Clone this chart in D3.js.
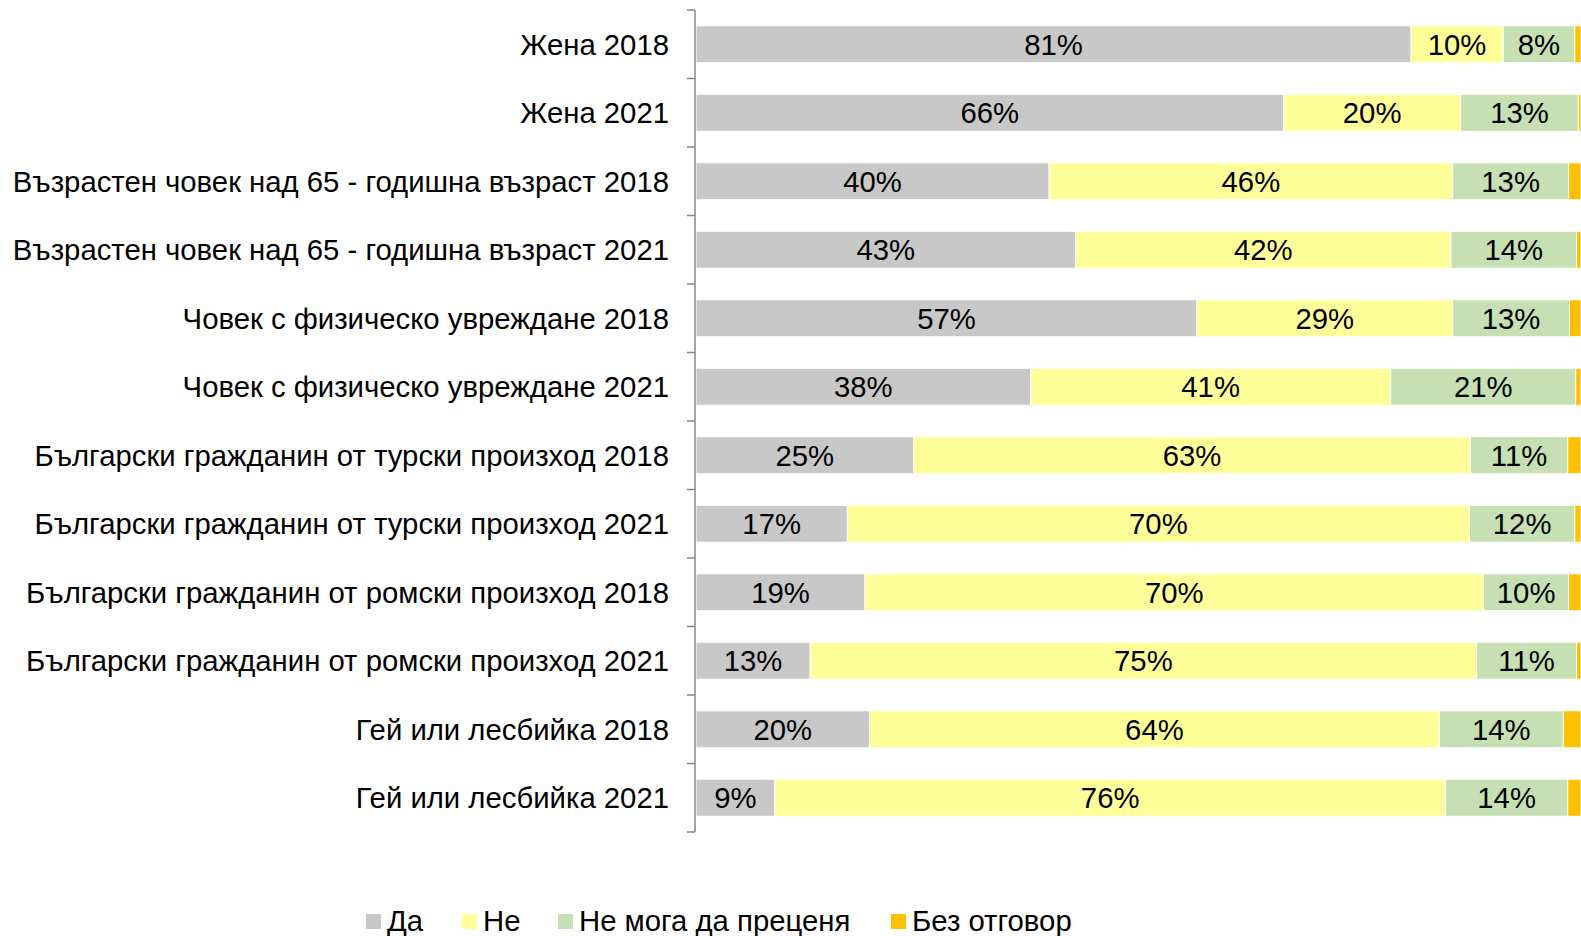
<!DOCTYPE html>
<html>
<head>
<meta charset="utf-8">
<script src="https://cdn.jsdelivr.net/npm/d3@7"></script>
<style>
  body { margin: 0; background: #fff; }
  svg { display: block; font-family: "Liberation Sans", Arial, sans-serif; }
</style>
</head>
<body>
<div id="chart"></div>
<script>
// categories, top to bottom
const categories = [
  "Жена 2018",
  "Жена 2021",
  "Възрастен човек над 65 - годишна възраст 2018",
  "Възрастен човек над 65 - годишна възраст 2021",
  "Човек с физическо увреждане 2018",
  "Човек с физическо увреждане 2021",
  "Български гражданин от турски произход 2018",
  "Български гражданин от турски произход 2021",
  "Български гражданин от ромски произход 2018",
  "Български гражданин от ромски произход 2021",
  "Гей или лесбийка 2018",
  "Гей или лесбийка 2021"
];

const seriesNames = ["Да", "Не", "Не мога да преценя", "Без отговор"];

// values in %
const da       = [80.8, 66.4, 39.9, 42.9, 56.6, 37.8, 24.6, 17.1, 19.1, 12.9, 19.6, 8.9];
const ne       = [10.4, 20.0, 45.6, 42.4, 28.9, 40.7, 62.9, 70.3, 69.9, 75.3, 64.4, 75.8];
const neMoga   = [8.1, 13.3, 13.1, 14.2, 13.2, 20.9, 11.0, 11.9, 9.6, 11.3, 14.0, 13.8];
const bezOtg   = [0.7, 0.3, 1.4, 0.5, 1.3, 0.6, 1.5, 0.7, 1.4, 0.5, 2.0, 1.5];

const colors = ["#c8c8c8", "#ffff99", "#c6e0b4", "#ffc000"];

const width = 1581, height = 936;
const margin = { top: 10, right: 0, bottom: 104, left: 696 };
const fontSize = 29.3;

const rows = categories.map((c, i) => ({
  cat: c, "Да": da[i], "Не": ne[i], "Не мога да преценя": neMoga[i], "Без отговор": bezOtg[i]
}));

const svg = d3.select("#chart").append("svg")
  .attr("width", width)
  .attr("height", height);

const x = d3.scaleLinear()
  .domain([0, 100])
  .range([margin.left, width - margin.right]);

const y = d3.scaleBand()
  .domain(categories)
  .range([margin.top, height - margin.bottom])
  .paddingInner(0.46)
  .paddingOuter(0.23);

const stack = d3.stack().keys(seriesNames);
const series = stack(rows);

// bars
const layer = svg.append("g").selectAll("g")
  .data(series)
  .join("g")
  .attr("fill", (d, i) => colors[i]);

layer.selectAll("rect")
  .data(d => d)
  .join("rect")
  .attr("x", d => x(d[0]))
  .attr("y", d => y(d.data.cat))
  .attr("width", d => x(d[1]) - x(d[0]))
  .attr("height", y.bandwidth())
  .attr("stroke", "#fff")
  .attr("stroke-width", 1);

// data labels (not for "Без отговор")
series.slice(0, 3).forEach(s => {
  svg.append("g").selectAll("text")
    .data(s)
    .join("text")
    .attr("x", d => (x(d[0]) + x(d[1])) / 2)
    .attr("y", d => y(d.data.cat) + y.bandwidth() / 2)
    .attr("dy", "0.35em")
    .attr("text-anchor", "middle")
    .attr("font-size", fontSize)
    .attr("fill", "#000")
    .text(d => Math.round(d[1] - d[0]) + "%");
});

// y axis with ticks between categories
const axis = svg.append("g");
axis.append("line")
  .attr("x1", margin.left - 1).attr("x2", margin.left - 1)
  .attr("y1", margin.top).attr("y2", height - margin.bottom)
  .attr("stroke", "#868686").attr("stroke-width", 1.5);

const tickYs = categories.map(c => y(c) - y.step() * y.paddingInner() / 2);
tickYs.push(height - margin.bottom);
axis.selectAll("line.tick")
  .data(tickYs)
  .join("line")
  .attr("class", "tick")
  .attr("x1", margin.left - 9).attr("x2", margin.left - 1)
  .attr("y1", d => d).attr("y2", d => d)
  .attr("stroke", "#868686").attr("stroke-width", 1.5);

axis.selectAll("text")
  .data(categories)
  .join("text")
  .attr("x", margin.left - 27)
  .attr("y", d => y(d) + y.bandwidth() / 2)
  .attr("dy", "0.35em")
  .attr("text-anchor", "end")
  .attr("font-size", fontSize)
  .attr("fill", "#000")
  .text(d => d);

// legend
const legendX = [366, 462, 558, 891];
const legend = svg.append("g");
seriesNames.forEach((name, i) => {
  legend.append("rect")
    .attr("x", legendX[i]).attr("y", 914)
    .attr("width", 15).attr("height", 15)
    .attr("fill", colors[i]);
  legend.append("text")
    .attr("x", legendX[i] + 21).attr("y", 931)
    .attr("font-size", fontSize)
    .attr("fill", "#000")
    .text(name);
});
</script>
</body>
</html>
